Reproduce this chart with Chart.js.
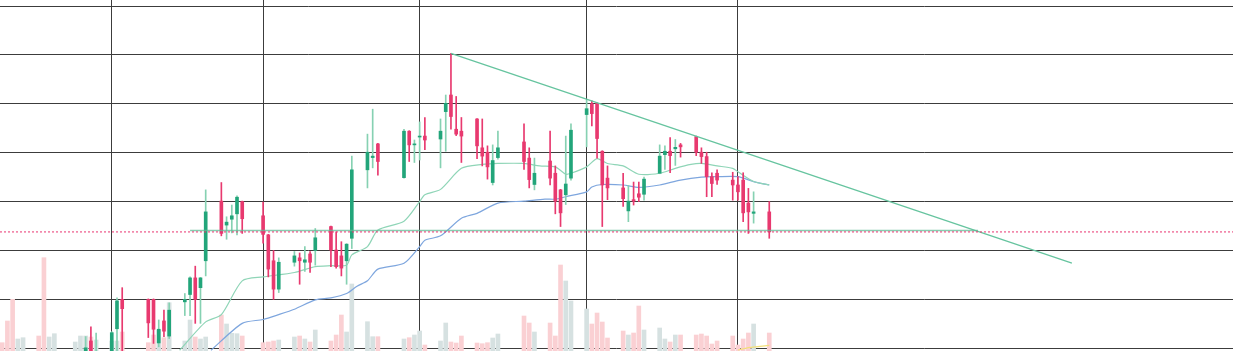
<!DOCTYPE html>
<html><head><meta charset="utf-8">
<script src="https://cdn.jsdelivr.net/npm/chart.js@4.4.1/dist/chart.umd.min.js"></script>
<style>html,body{margin:0;padding:0;background:#fff;overflow:hidden}canvas{display:block}</style>
</head><body>
<canvas id="c" width="1233" height="351"></canvas>
<script>
// ---- data (day index on a calendar axis) ----
const days   = [16,17,18,21,22,23,28,29,30,31,32,35,36,37,38,39,42,43,44,45,46,50,51,52,53,56,57,58,59,60,63,64,65,66,67,70,71,72,77,78,79,80,81,84,85,86,87,88,91,92,93,94,95,100,101,102,105,106,107,108,109,112,113,114,115,116,119,120,121,122,123,126,127,128,129,130,133,134,135,136,137,140,141,142,143,144,147];
const opens  = [9.90,10.15,9.86,9.85,10.40,11.00,11.00,11.00,10.11,10.56,10.25,10.95,11.10,11.44,11.24,11.79,13.01,12.52,12.64,12.75,13.00,12.71,12.32,11.79,11.21,11.76,11.85,11.76,11.93,12.00,12.49,12.01,11.89,11.79,12.25,13.65,13.90,14.18,13.49,14.44,14.16,14.32,14.34,14.28,14.84,15.18,14.48,14.44,14.69,14.10,14.01,13.39,13.90,14.22,13.89,13.35,13.83,13.58,13.24,13.14,13.48,14.78,15.00,15.01,14.03,13.48,13.28,12.81,13.04,13.16,13.15,13.58,13.96,14.03,14.08,14.16,14.33,14.01,13.92,13.51,13.58,13.44,13.34,13.44,12.97,12.76,12.79];
const highs  = [10.24,10.44,10.31,10.34,11.03,11.24,11.01,11.01,10.58,10.78,10.93,11.12,11.46,11.68,11.45,13.24,13.39,12.69,12.93,13.12,13.01,12.99,12.33,12.00,11.85,11.98,11.95,12.08,11.98,12.45,12.50,12.38,12.18,12.14,13.93,14.38,14.89,14.19,14.48,14.45,14.26,14.63,14.72,14.69,15.18,16.03,15.15,14.72,14.70,14.69,14.14,14.16,14.44,14.59,14.10,13.89,14.44,13.73,13.25,14.34,14.59,15.08,15.06,15.02,14.04,13.73,13.58,13.33,13.40,13.40,13.50,14.16,14.14,14.31,14.27,14.19,14.34,14.10,14.01,13.59,13.65,13.60,13.51,13.59,13.27,13.20,13.00];
const lows   = [9.84,9.84,9.80,9.80,9.95,9.95,10.22,10.10,10.03,10.24,10.20,10.67,10.67,10.51,10.51,11.48,12.30,12.23,12.36,12.32,12.35,12.15,11.46,11.00,11.14,11.68,11.31,11.57,11.55,11.70,11.67,11.64,11.48,11.31,12.04,13.28,13.69,13.54,13.48,13.82,13.80,13.85,14.06,13.69,14.03,14.48,14.35,13.80,13.88,13.73,13.46,13.34,13.87,13.66,13.28,13.24,13.34,12.75,12.49,12.94,13.44,14.12,14.55,13.89,12.49,13.04,12.90,12.59,12.93,13.00,13.03,13.57,13.66,13.59,13.74,13.91,13.94,13.78,13.10,13.10,13.35,13.03,13.03,12.59,12.35,12.56,12.25];
const closes = [10.01,9.90,9.94,10.32,10.97,10.81,10.52,10.39,10.39,10.35,10.78,11.00,11.44,11.00,11.44,12.79,12.35,12.58,12.71,13.09,12.65,12.33,11.62,11.21,11.76,11.89,11.79,11.81,11.76,12.26,12.01,11.67,11.64,12.13,13.65,14.01,13.93,13.82,14.44,14.16,14.18,14.34,14.26,14.44,15.01,14.74,14.38,14.34,14.14,13.93,13.71,13.84,14.10,13.82,13.45,13.58,13.48,13.01,12.77,13.36,14.46,14.90,14.80,14.29,13.34,13.28,13.06,13.01,13.01,13.09,13.46,13.93,14.03,13.94,14.11,14.12,14.01,13.92,13.51,13.37,13.44,13.34,13.20,12.77,12.79,12.79,12.38];

const volDays   = [0,1,2,3,4,7,8,9,10,14,15,16,17,18,21,22,23,28,29,30,31,32,35,36,37,38,39,42,43,44,45,46,50,51,52,53,56,57,58,59,60,63,64,65,66,67,70,71,72,77,78,79,80,81,84,85,86,87,88,91,92,93,94,95,100,101,102,105,106,107,108,109,112,113,114,115,116,119,120,121,122,123,126,127,128,129,130,133,134,135,136,137,140,141,142,143,144,147];
const volValues = [83,300,517,120,133,150,933,140,173,90,150,150,140,110,100,100,190,83,160,210,133,483,100,310,140,120,140,360,270,177,173,150,83,90,100,110,140,150,120,90,210,100,160,360,190,670,293,143,143,120,133,160,200,60,100,280,90,80,150,80,73,83,130,170,350,280,190,280,150,860,700,500,420,270,380,290,130,200,160,180,450,210,230,120,90,160,160,160,170,150,70,100,150,60,120,180,270,180];
const volUp     = [0,0,0,1,1,0,0,1,1,1,1,1,0,1,1,1,0,0,0,1,0,1,1,1,0,1,1,0,1,1,1,0,0,0,0,1,1,0,1,0,1,0,0,0,1,1,1,1,0,1,0,1,1,0,1,1,0,0,0,0,0,0,1,1,0,0,1,0,0,0,1,1,1,0,0,0,0,0,1,0,0,1,1,1,0,1,0,0,0,0,0,0,0,0,0,0,1,0];

const maFastDays   = [34,39,42,46,50,56,60,63,66,67,70,72,77,80,81,84,88,92,95,100,103,106,108,109,112,114,116,119,122,126,129,132,134,137,140,141,144,147];
const maFastValues = [9.96,10.54,10.69,11.38,11.46,11.55,11.67,11.69,11.70,11.91,12.08,12.42,12.60,13.00,13.14,13.25,13.68,13.76,13.78,13.78,13.73,13.71,13.56,13.58,13.71,13.88,13.78,13.73,13.56,13.58,13.68,13.76,13.78,13.73,13.68,13.61,13.41,13.34];
const maSlowDays   = [40,46,50,53,56,60,63,66,68,70,72,77,80,81,84,88,91,95,100,104,106,108,112,113,115,119,122,126,130,134,137,141,144,147];
const maSlowValues = [9.96,10.51,10.59,10.69,10.80,10.99,11.03,11.12,11.27,11.38,11.62,11.74,12.08,12.21,12.30,12.66,12.76,12.97,13.01,13.05,13.05,13.10,13.20,13.30,13.35,13.34,13.29,13.34,13.44,13.50,13.51,13.51,13.41,13.34];
const volMaDays    = [141,143,147];
const volMaValues  = [10,33,57];

const trendDays    = [86,205];
const trendValues  = [16.03,11.74];
const supportDays  = [36,187];
const supportValues= [12.41,12.41];

const priceTicks = [10,11,12,13,14,15,16,17];
const monthTicks = [21,50,80,112,141];
const xMin = -0.42, xMax = 235.87;
const yMin = 9.945, yMax = 17.1227;
const volMax = 3510;

// ---- styles ----
const UP = '#22a57a', DOWN = '#e8396f', UP_WICK = '#86d1b2', DOWN_WICK = '#e8396f';
const VOL_UP = '#d6e1e1', VOL_DOWN = '#fad0d3';
const GRID = '#3c3c3c';

const isUp = i => closes[i] >= opens[i];
const lastClose = closes[closes.length - 1];

const pts = (xs, ys) => xs.map((x, i) => ({x, y: ys[i]}));

new Chart(document.getElementById('c'), {
  type: 'bar',
  data: {
    datasets: [
      { type:'line', label:'support', data: pts(supportDays, supportValues), yAxisID:'y',
        borderColor:'rgba(96,186,150,0.75)', borderWidth:1.6, pointRadius:0, order:1 },
      { type:'line', label:'trend', data: pts(trendDays, trendValues), yAxisID:'y',
        borderColor:'#66c49f', borderWidth:1.3, pointRadius:0, order:1 },
      { type:'line', label:'last', data: [{x:xMin,y:lastClose},{x:xMax,y:lastClose}], yAxisID:'y',
        borderColor:'#e8336f', borderWidth:1, borderDash:[2,2], pointRadius:0, order:0 },
      { label:'body', data: days.map((d,i)=>({x:d, y:[opens[i], closes[i]]})), yAxisID:'y',
        backgroundColor: c => isUp(c.dataIndex) ? UP : DOWN,
        barThickness:3, minBarLength:1, grouped:false, order:2 },
      { label:'wick', data: days.map((d,i)=>({x:d, y:[lows[i], highs[i]]})), yAxisID:'y',
        backgroundColor: c => isUp(c.dataIndex) ? UP_WICK : DOWN_WICK,
        barThickness:1, grouped:false, order:3 },
      { type:'line', label:'maFast', data: pts(maFastDays, maFastValues), yAxisID:'y',
        borderColor:'#8fd5b7', borderWidth:1.2, pointRadius:0, tension:0.25, order:4 },
      { type:'line', label:'maSlow', data: pts(maSlowDays, maSlowValues), yAxisID:'y',
        borderColor:'#7ea6de', borderWidth:1.2, pointRadius:0, tension:0.25, order:4 },
      { type:'line', label:'volMa', data: pts(volMaDays, volMaValues), yAxisID:'yv',
        borderColor:'#f3e07a', borderWidth:1.2, pointRadius:0, order:5 },
      { label:'volume', data: volDays.map((d,i)=>({x:d, y:volValues[i]})), yAxisID:'yv',
        backgroundColor: c => volUp[c.dataIndex] ? VOL_UP : VOL_DOWN,
        barThickness:4, grouped:false, order:10 }
    ]
  },
  options: {
    responsive:false, animation:false, devicePixelRatio:1,
    layout:{padding:0},
    plugins:{legend:{display:false}, tooltip:{enabled:false}},
    scales:{
      x:{ type:'linear', min:xMin, max:xMax, offset:false,
          afterBuildTicks: s => { s.ticks = monthTicks.map(v=>({value:v})); },
          ticks:{display:false}, border:{display:false},
          grid:{color:GRID, lineWidth:1, drawTicks:false, offset:false} },
      y:{ type:'linear', position:'left', min:yMin, max:yMax,
          afterBuildTicks: s => { s.ticks = priceTicks.map(v=>({value:v})); },
          ticks:{display:false}, border:{display:false},
          grid:{color:GRID, lineWidth:1, drawTicks:false} },
      yv:{ type:'linear', display:false, min:0, max:volMax, grid:{display:false} }
    }
  }
});
</script>
</body></html>
